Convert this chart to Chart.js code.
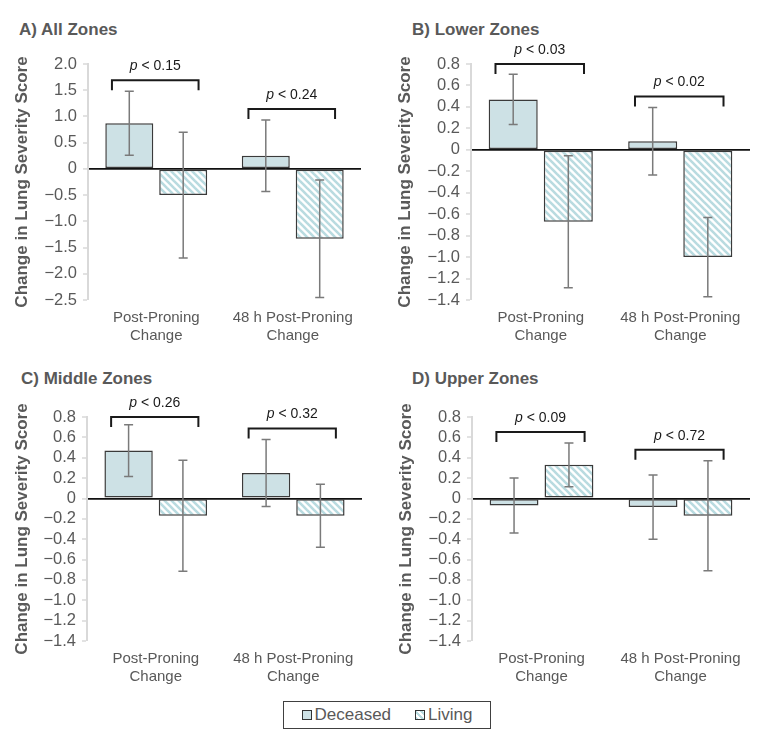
<!DOCTYPE html>
<html>
<head>
<meta charset="utf-8">
<script src="https://cdn.jsdelivr.net/npm/chart.js@4.4.1/dist/chart.umd.min.js"></script>
<style>
  body { margin: 0; background: #fff; width: 773px; height: 740px; position: relative; overflow: hidden;
         font-family: "Liberation Sans", Arial, sans-serif; }
  .panel { position: absolute; }
  .ptitle { position: absolute; font-weight: bold; font-size: 17px; line-height: 20px; color: #595959; white-space: nowrap; }
  #legend { position: absolute; left: 283px; top: 701px; width: 206px; height: 26px; border: 1.5px solid #404040;
            display: flex; align-items: center; justify-content: center; font-size: 17px; color: #595959; }
  .sw { display: inline-block; width: 8px; height: 8px; border: 1px solid #333; margin-right: 3px; }
</style>
</head>
<body>
<div class="ptitle" style="left:19px;top:20px">A) All Zones</div>
<div class="ptitle" style="left:412px;top:20px">B) Lower Zones</div>
<div class="ptitle" style="left:21px;top:369px">C) Middle Zones</div>
<div class="ptitle" style="left:412px;top:369px">D) Upper Zones</div>

<canvas id="chartA" class="panel" width="386" height="350" style="left:0;top:0"></canvas>
<canvas id="chartB" class="panel" width="390" height="350" style="left:383px;top:0"></canvas>
<canvas id="chartC" class="panel" width="386" height="345" style="left:0;top:350px"></canvas>
<canvas id="chartD" class="panel" width="390" height="345" style="left:384px;top:350px"></canvas>

<div id="legend">
  <span class="sw" style="background:#cde1e5"></span><span>Deceased</span>
  <span class="sw" style="margin-left:24px;background:repeating-linear-gradient(45deg,#b9dbe0 0 2px,#fff 2px 4px)"></span><span>Living</span>
</div>

<script>
const categories = [["Post-Proning", "Change"], ["48 h Post-Proning", "Change"]];
const seriesNames = ["Deceased", "Living"];

// A) all zones
const allDeceased = [0.87, 0.25];
const allDeceasedErr = [0.61, 0.68];
const allLiving = [-0.50, -1.33];
const allLivingErr = [1.20, 1.12];
const allP = ["0.15", "0.24"];

// B) lower zones
const lowerDeceased = [0.47, 0.08];
const lowerDeceasedErr = [0.235, 0.315];
const lowerLiving = [-0.67, -1.00];
const lowerLivingErr = [0.615, 0.37];
const lowerP = ["0.03", "0.02"];

// C) middle zones
const middleDeceased = [0.47, 0.25];
const middleDeceasedErr = [0.255, 0.33];
const middleLiving = [-0.17, -0.17];
const middleLivingErr = [0.545, 0.31];
const middleP = ["0.26", "0.32"];

// D) upper zones
const upperDeceased = [-0.07, -0.085];
const upperDeceasedErr = [0.27, 0.315];
const upperLiving = [0.33, -0.17];
const upperLivingErr = [0.215, 0.54];
const upperP = ["0.09", "0.72"];

// y axis: min, max, step
const allAxis = [-2.5, 2.0, 0.5];
const zoneAxis = [-1.4, 0.8, 0.2];

Chart.defaults.font.family = '"Liberation Sans", Arial, sans-serif';
Chart.defaults.color = "#595959";

function hatch(color) {
  const s = 7;
  const c = document.createElement("canvas");
  c.width = s; c.height = s;
  const g = c.getContext("2d");
  g.fillStyle = "#fff";
  g.fillRect(0, 0, s, s);
  g.strokeStyle = color;
  g.lineWidth = 2.6;
  for (const k of [-s, 0, s]) {
    g.beginPath();
    g.moveTo(k - 1, -1);
    g.lineTo(k + s + 1, s + 1);
    g.stroke();
  }
  return g.createPattern(c, "repeat");
}

const errorBars = {
  id: "errorBars",
  afterDatasetsDraw(chart) {
    const ctx = chart.ctx, y = chart.scales.y;
    ctx.save();
    ctx.strokeStyle = "#7a7a7a";
    ctx.lineWidth = 1.5;
    chart.data.datasets.forEach((ds, i) => {
      chart.getDatasetMeta(i).data.forEach((bar, j) => {
        const top = y.getPixelForValue(ds.data[j] + ds.errors[j]);
        const bot = y.getPixelForValue(ds.data[j] - ds.errors[j]);
        ctx.beginPath();
        ctx.moveTo(bar.x, top); ctx.lineTo(bar.x, bot);
        ctx.moveTo(bar.x - 4.5, top); ctx.lineTo(bar.x + 4.5, top);
        ctx.moveTo(bar.x - 4.5, bot); ctx.lineTo(bar.x + 4.5, bot);
        ctx.stroke();
      });
    });
    ctx.restore();
  }
};

const brackets = {
  id: "brackets",
  afterDatasetsDraw(chart, args, opts) {
    const ctx = chart.ctx, y = chart.scales.y;
    const ds = chart.data.datasets;
    const m0 = chart.getDatasetMeta(0), m1 = chart.getDatasetMeta(1);
    ctx.save();
    opts.labels.forEach((p, j) => {
      const b0 = m0.data[j], b1 = m1.data[j];
      const left = b0.x - b0.width / 2, right = b1.x + b1.width / 2;
      const mid = (left + right) / 2 - 1, half = (right - left) * 0.425;
      const errTop = Math.min(...ds.map(d => y.getPixelForValue(d.data[j] + d.errors[j])));
      const top = Math.max(errTop - 11, chart.chartArea.top);
      ctx.strokeStyle = "#1a1a1a";
      ctx.lineWidth = 2;
      ctx.beginPath();
      ctx.moveTo(mid - half, top + 10);
      ctx.lineTo(mid - half, top);
      ctx.lineTo(mid + half, top);
      ctx.lineTo(mid + half, top + 10);
      ctx.stroke();

      const fam = Chart.defaults.font.family;
      ctx.fillStyle = "#1a1a1a";
      ctx.textBaseline = "middle";
      ctx.textAlign = "left";
      ctx.font = "italic 14px " + fam;
      const w1 = ctx.measureText("p").width;
      ctx.font = "14px " + fam;
      const rest = " < " + p;
      const w2 = ctx.measureText(rest).width;
      const x0 = mid - (w1 + w2) / 2;
      ctx.font = "italic 14px " + fam;
      ctx.fillText("p", x0, top - 14);
      ctx.font = "14px " + fam;
      ctx.fillText(rest, x0 + w1, top - 14);
    });
    ctx.restore();
  }
};

const isZero = v => Math.abs(v) < 1e-9;
const fmt = v => isZero(v) ? "0" : v.toFixed(1).replace("-", "\u2212");

const livingFill = hatch("#b9dbe0");

const panels = [
  { id: "chartA", dec: allDeceased, decErr: allDeceasedErr, liv: allLiving, livErr: allLivingErr, p: allP, axis: allAxis,
    yWidth: 88, pad: { left: 0, right: 25, top: 64, bottom: 0 } },
  { id: "chartB", dec: lowerDeceased, decErr: lowerDeceasedErr, liv: lowerLiving, livErr: lowerLivingErr, p: lowerP, axis: zoneAxis,
    yWidth: 88, pad: { left: 0, right: 23, top: 64, bottom: 0 } },
  { id: "chartC", dec: middleDeceased, decErr: middleDeceasedErr, liv: middleLiving, livErr: middleLivingErr, p: middleP, axis: zoneAxis,
    yWidth: 87, pad: { left: 0, right: 24, top: 67, bottom: 4 } },
  { id: "chartD", dec: upperDeceased, decErr: upperDeceasedErr, liv: upperLiving, livErr: upperLivingErr, p: upperP, axis: zoneAxis,
    yWidth: 88, pad: { left: 0, right: 24, top: 67, bottom: 4 } },
];

panels.forEach(pn => {
  new Chart(document.getElementById(pn.id), {
    type: "bar",
    plugins: [errorBars, brackets],
    data: {
      labels: categories,
      datasets: [
        { label: seriesNames[0], data: pn.dec, errors: pn.decErr, backgroundColor: "#cde1e5",
          borderColor: "#3a3a3a", borderWidth: 1.5, borderSkipped: false,
          categoryPercentage: 0.79, barPercentage: 0.89 },
        { label: seriesNames[1], data: pn.liv, errors: pn.livErr, backgroundColor: livingFill,
          borderColor: "#3a3a3a", borderWidth: 1.5, borderSkipped: false,
          categoryPercentage: 0.79, barPercentage: 0.89 },
      ],
    },
    options: {
      responsive: false,
      animation: false,
      devicePixelRatio: 1,
      layout: { padding: pn.pad },
      plugins: {
        legend: { display: false },
        tooltip: { enabled: false },
        brackets: { labels: pn.p },
      },
      scales: {
        x: {
          grid: { display: false, drawTicks: false },
          border: { display: false },
          ticks: { font: { size: 15 }, padding: 9, maxRotation: 0, autoSkip: false, color: "#595959" },
          afterFit: s => { s.height = 50; },
        },
        y: {
          min: pn.axis[0],
          max: pn.axis[1],
          border: { color: "#d9d9d9", width: 2 },
          grid: {
            color: c => isZero(c.tick.value) ? "#111" : "rgba(0,0,0,0)",
            lineWidth: c => isZero(c.tick.value) ? 1.8 : 0,
            tickColor: "#d9d9d9",
            tickWidth: 1.5,
            tickLength: 5,
          },
          ticks: { stepSize: pn.axis[2], autoSkip: false, padding: 6, font: { size: 16.5 }, color: "#595959",
                   callback: v => fmt(v) },
          title: { display: true, text: "Change in Lung Severity Score", color: "#595959",
                   font: { size: 17, weight: "bold" }, padding: { top: 12, bottom: 0 } },
          afterFit: s => { s.width = pn.yWidth; },
        },
      },
    },
  });
});
</script>
</body>
</html>
